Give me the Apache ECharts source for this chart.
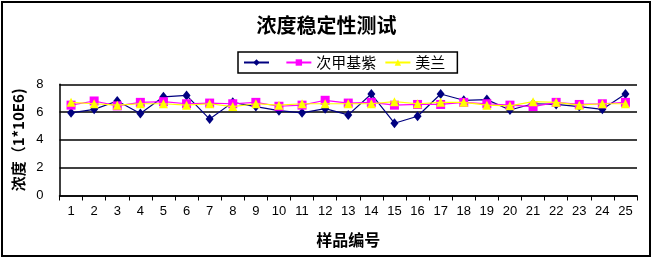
<!DOCTYPE html>
<html><head><meta charset="utf-8">
<script src="https://cdn.jsdelivr.net/npm/echarts@6/dist/echarts.min.js"></script>
<style>html,body{margin:0;padding:0;background:#fff}#c{width:653px;height:259px}</style>
</head><body><div id="c"></div>
<script>
const titleText = '浓度稳定性测试';
const xName = '样品编号';
const yName = '浓度（1*10E6)';
const categories = ['1','2','3','4','5','6','7','8','9','10','11','12','13','14','15','16','17','18','19','20','21','22','23','24','25'];
const seriesNames = [' ', '次甲基紫', '美兰'];
const blueValues = [5.95,6.2,6.8,5.9,7.1,7.2,5.5,6.7,6.4,6.1,5.95,6.25,5.8,7.3,5.2,5.7,7.3,6.85,6.9,6.15,6.6,6.55,6.4,6.2,7.3];
const magentaValues = [6.5,6.8,6.45,6.7,6.75,6.6,6.65,6.6,6.7,6.42,6.5,6.85,6.65,6.7,6.5,6.55,6.55,6.7,6.6,6.5,6.4,6.7,6.55,6.6,6.7];
const yellowValues = [6.7,6.6,6.5,6.6,6.6,6.5,6.6,6.4,6.6,6.5,6.6,6.6,6.6,6.6,6.75,6.6,6.7,6.7,6.5,6.45,6.75,6.7,6.5,6.6,6.6];
const yTicks = [0, 2, 4, 6, 8];

const cjk = '"Noto Sans CJK SC", sans-serif';
const chart = echarts.init(document.getElementById('c'), null, {renderer: 'canvas'});
chart.setOption({
  animation: false,
  backgroundColor: '#fff',
  graphic: [{type: 'rect', shape: {x: 2, y: 2, width: 648, height: 254}, style: {fill: 'none', stroke: '#000', lineWidth: 2}, z: 100}],
  title: {text: titleText, left: 'center', top: 15, padding: 0,
    textStyle: {fontFamily: cjk, fontSize: 20, fontWeight: 'bold', color: '#000'}},
  legend: {
    data: seriesNames, left: 238, top: 52, padding: [3, 12, 3, 5], itemGap: 8,
    itemWidth: 25, itemHeight: 8, borderColor: '#000', borderWidth: 1.5,
    textStyle: {fontFamily: cjk, fontSize: 15, color: '#000'}
  },
  grid: {left: 59.5, right: 16, top: 84.3, bottom: 63.5, containLabel: false},
  xAxis: {
    type: 'category', data: categories, boundaryGap: true,
    name: xName, nameLocation: 'middle', nameGap: 36,
    nameTextStyle: {fontFamily: cjk, fontSize: 16, fontWeight: 'bold', color: '#000'},
    axisLine: {lineStyle: {color: '#000', width: 1.5}},
    axisTick: {show: true, length: 5, lineStyle: {color: '#000'}},
    axisLabel: {margin: 9, fontFamily: '"Liberation Sans", sans-serif', fontSize: 13, color: '#000', interval: 0}
  },
  yAxis: {
    type: 'value', min: yTicks[0], max: yTicks[yTicks.length - 1], interval: 2,
    name: yName, nameLocation: 'middle', nameGap: 34, nameRotate: 90,
    nameTextStyle: {fontFamily: cjk, fontSize: 15, fontWeight: 'bold', color: '#000'},
    axisLine: {show: true, lineStyle: {color: '#000', width: 1.5}},
    axisTick: {show: false},
    axisLabel: {margin: 16, fontFamily: '"Liberation Sans", sans-serif', fontSize: 13, color: '#000'},
    splitLine: {show: true, lineStyle: {color: '#000', width: 1.5}}
  },
  series: [
    {name: seriesNames[0], type: 'line', data: blueValues, symbol: 'diamond', symbolSize: [8, 10],
      itemStyle: {color: '#000080'}, lineStyle: {color: '#000080', width: 1.2}, z: 2},
    {name: seriesNames[1], type: 'line', data: magentaValues, symbol: 'rect', symbolSize: 9,
      itemStyle: {color: '#FF00FF'}, lineStyle: {color: '#FF00FF', width: 1.2}, z: 3},
    {name: seriesNames[2], type: 'line', data: yellowValues, symbol: 'triangle', symbolSize: 9,
      itemStyle: {color: '#FFFF00'}, lineStyle: {color: '#FFFF00', width: 1.2}, z: 4}
  ]
});
</script></body></html>
